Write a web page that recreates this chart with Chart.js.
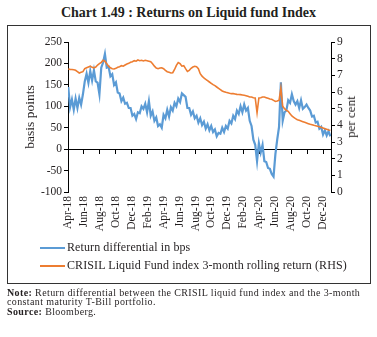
<!DOCTYPE html>
<html>
<head>
<meta charset="utf-8">
<script src="https://cdn.jsdelivr.net/npm/chart.js@4.4.0/dist/chart.umd.min.js"></script>
<style>
    body {
        margin: 0;
        width: 377px;
        height: 337px;
        background: #fff;
        position: relative;
        overflow: hidden;
        font-family: "Liberation Serif", serif;
        color: #231f20;
    }
    #title {
        position: absolute;
        left: 0;
        top: 5px;
        width: 377px;
        text-align: center;
        font-weight: bold;
        font-size: 14px;
        line-height: 16px;
    }
    #box {
        position: absolute;
        left: 7px;
        top: 25px;
        width: 364px;
        height: 259px;
        box-sizing: border-box;
        border: 1px solid #333;
    }
    #chart {
        position: absolute;
        left: 0;
        top: 0;
    }
    #rtitle {
        position: absolute;
        left: 343px;
        top: 91px;
        font-size: 13px;
        white-space: nowrap;
        transform: translate(-50%, -50%) rotate(-90deg);
    }
    .leg {
        position: absolute;
        left: 32px;
        font-size: 12px;
        letter-spacing: 0.1px;
        line-height: 16px;
        white-space: nowrap;
    }
    .leg i {
        display: inline-block;
        width: 25px;
        height: 2px;
        vertical-align: middle;
        margin-right: 2px;
    }
    #note {
        position: absolute;
        left: 7px;
        top: 288px;
        width: 370px;
        font-size: 10px;
        letter-spacing: 0.38px;
        line-height: 9.4px;
        white-space: nowrap;
    }
</style>
</head>
<body>
<div id="title">Chart 1.49 : Returns on Liquid fund Index</div>
<div id="box">
    <canvas id="chart" width="362" height="216"></canvas>
    <div id="rtitle">per cent</div>
    <div class="leg" style="top:213px"><i style="background:#5b9bd5"></i>Return differential in bps</div>
    <div class="leg" style="top:231px"><i style="background:#ed7d31"></i>CRISIL Liquid Fund index 3-month rolling return (RHS)</div>
</div>
<div id="note"><b>Note:</b> Return differential between the CRISIL liquid fund index and the 3-month<br>constant maturity T-Bill portfolio.<br><b>Source:</b> Bloomberg.</div>

<script>
// weekly observations, first week starting 2 Apr 2018
const START_DAY = 1; // days after 1 Apr 2018
const DAYS_PER_MONTH = 30.4375;

const MONTH_TICKS = ["Apr-18", "Jun-18", "Aug-18", "Oct-18", "Dec-18", "Feb-19",
    "Apr-19", "Jun-19", "Aug-19", "Oct-19", "Dec-19", "Feb-20",
    "Apr-20", "Jun-20", "Aug-20", "Oct-20", "Dec-20"];

// return differential, bps (LHS)
const spreadBps = [
    145, 98, 116, 92, 118, 96, 120, 104, 128, 158,
    176, 155, 182, 160, 184, 158, 155, 128, 190, 202,
    222, 190, 192, 170, 175, 150, 156, 132, 130, 112,
    120, 106, 108, 96, 96, 78, 82, 70, 86, 84,
    100, 94, 106, 86, 112, 78, 88, 66, 74, 54,
    58, 50, 80, 72, 92, 76, 98, 90, 108, 100,
    118, 110, 130, 126, 122, 96, 96, 80, 88, 72,
    78, 62, 72, 56, 64, 48, 58, 44, 54, 40,
    46, 30, 38, 36, 50, 40, 54, 48, 66, 60,
    78, 70, 90, 82, 100, 86, 104, 90, 96, 66,
    54, 22, 10, -28, 14, -8, 10, -28, -30, -44,
    -46, -58, -64, -12, 22, 52, 156, 66, 86, 90,
    114, 108, 128, 112, 104, 112, 96, 114, 94, 98,
    104, 96, 90, 76, 78, 62, 64, 48, 52, 34,
    44, 32, 42, 30
];

// CRISIL liquid fund index, 3-month rolling return, per cent (RHS)
const crisilPct = [
    7.38, 7.36, 7.35, 7.33, 7.30, 7.22, 7.14, 7.18, 7.22, 7.40,
    7.45, 7.50, 7.55, 7.48, 7.45, 7.50, 7.62, 7.70, 7.78, 7.90,
    7.85, 7.70, 7.55, 7.45, 7.40, 7.38, 7.42, 7.48, 7.52, 7.58,
    7.55, 7.62, 7.68, 7.72, 7.78, 7.82, 7.88, 7.85, 7.92, 7.88,
    7.90, 7.86, 7.90, 7.88, 7.85, 7.82, 7.70, 7.55, 7.44, 7.40,
    7.44, 7.45, 7.40, 7.30, 7.22, 7.18, 7.14, 7.16, 7.35, 7.60,
    7.76, 7.70, 7.55, 7.58, 7.40, 7.24, 7.30, 7.42, 7.50, 7.54,
    7.52, 7.40, 7.10, 6.95, 6.84, 6.76, 6.68, 6.60, 6.52, 6.44,
    6.38, 6.30, 6.22, 6.14, 6.06, 6.02, 5.98, 5.95, 5.92, 5.90,
    5.90, 5.88, 5.86, 5.85, 5.84, 5.82, 5.80, 5.78, 5.74, 5.70,
    5.70, 5.66, 5.64, 4.75, 5.64, 5.66, 5.70, 5.70, 5.66, 5.62,
    5.58, 5.56, 5.50, 5.44, 5.46, 5.50, 6.24, 5.14, 5.00, 4.90,
    4.84, 4.70, 4.56, 4.48, 4.40, 4.34, 4.30, 4.26, 4.22, 4.18,
    4.14, 4.10, 4.06, 4.04, 4.00, 3.98, 3.94, 3.92, 3.88, 3.84,
    3.80, 3.76, 3.72, 3.70
];

// week index -> months since 1 Apr 2018
const toPoints = (arr) =>
    arr.map((v, i) => ({ x: (START_DAY + i * 7) / DAYS_PER_MONTH, y: v }));

const tickFont = { family: "Liberation Serif", size: 11.5 };
const setMonthTicks = (scale) => {
    scale.ticks = MONTH_TICKS.map((_, i) => ({ value: i * 2 }));
};

new Chart(document.getElementById("chart"), {
    type: "line",
    data: {
        datasets: [
            {
                label: "Return differential in bps",
                data: toPoints(spreadBps),
                borderColor: "#5b9bd5",
                borderWidth: 2.2,
                pointRadius: 0,
                yAxisID: "y",
                order: 1,
            },
            {
                label: "CRISIL Liquid Fund index 3-month rolling return (RHS)",
                data: toPoints(crisilPct),
                borderColor: "#ed7d31",
                borderWidth: 1.6,
                pointRadius: 0,
                yAxisID: "y1",
                order: 0,
            },
        ],
    },
    options: {
        responsive: false,
        animation: false,
        devicePixelRatio: 1,
        layout: { padding: { top: 16, left: 0, right: 0, bottom: 0 } },
        plugins: { legend: { display: false }, tooltip: { enabled: false } },
        scales: {
            x: {
                type: "linear",
                min: 0,
                max: 33,
                afterBuildTicks: setMonthTicks,
                afterFit: (s) => { s.height = 50; },
                grid: { display: false, drawTicks: false },
                border: { display: false },
                ticks: {
                    autoSkip: false,
                    minRotation: 90,
                    maxRotation: 90,
                    padding: 4,
                    color: "#231f20",
                    font: tickFont,
                    callback: (v) => MONTH_TICKS[v / 2],
                },
            },
            // zero line with month tick marks
            x2: {
                type: "linear",
                position: { y: 0 },
                min: 0,
                max: 33,
                afterBuildTicks: setMonthTicks,
                grid: { drawOnChartArea: false, drawTicks: true, tickLength: 4, color: "#000" },
                border: { color: "#000", width: 1 },
                ticks: { display: false },
            },
            y: {
                position: "left",
                min: -100,
                max: 250,
                afterFit: (s) => { s.width = 60; },
                grid: { drawOnChartArea: false, tickLength: 4, color: "#000" },
                border: { color: "#000", width: 1 },
                ticks: { stepSize: 50, autoSkip: false, padding: 2, color: "#231f20", font: tickFont },
                title: {
                    display: true,
                    text: "basis points",
                    color: "#231f20",
                    font: { family: "Liberation Serif", size: 13.5 },
                    padding: { top: 14, bottom: 0 },
                },
            },
            y1: {
                position: "right",
                min: 0,
                max: 9,
                afterFit: (s) => { s.width = 39; },
                grid: { drawOnChartArea: false, tickLength: 4, color: "#000" },
                border: { color: "#000", width: 1 },
                ticks: { stepSize: 1, autoSkip: false, padding: 2, color: "#231f20", font: tickFont },
            },
        },
    },
});
</script>
</body>
</html>
